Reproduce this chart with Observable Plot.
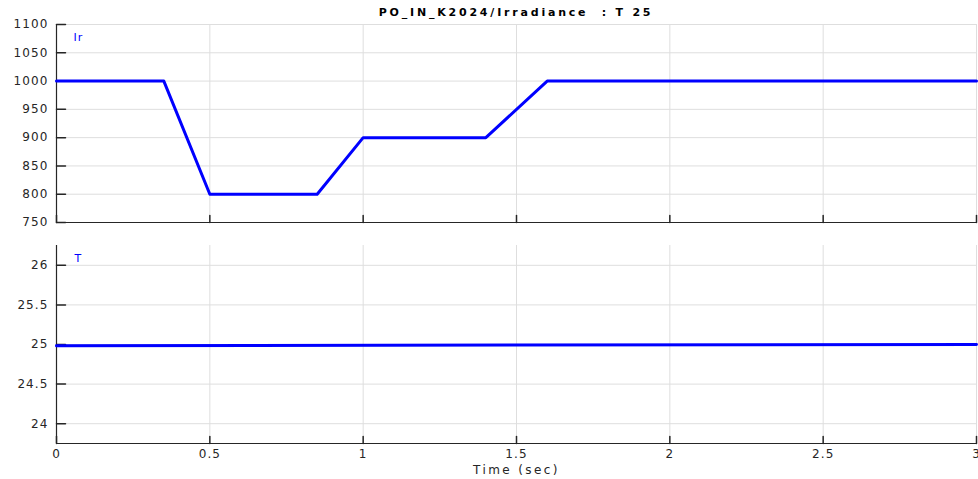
<!DOCTYPE html>
<html><head><meta charset="utf-8">
<script src="https://cdn.jsdelivr.net/npm/d3@7"></script>
<script src="https://cdn.jsdelivr.net/npm/@observablehq/plot@0.6"></script>
<style>
body{margin:0;background:#fff;}
#wrap{position:relative;width:978px;height:479px;font-family:"DejaVu Sans",sans-serif;overflow:hidden;}
#title{position:absolute;top:6px;left:56px;width:920px;text-align:center;font-weight:bold;font-size:11px;letter-spacing:2.8px;color:#000;line-height:14px;white-space:pre;}
#top{position:absolute;top:0;left:0;}
#bottom{position:absolute;top:230px;left:0;}
</style></head><body>
<div id="wrap"><div id="title"></div><div id="top"></div><div id="bottom"></div></div>
<script>
// Irradiance series (time in sec, W/m²)
const timeIr = [0, 0.35, 0.5, 0.85, 1.0, 1.4, 1.6, 3.0];
const irValues = [1000, 1000, 800, 800, 900, 900, 1000, 1000];
// Temperature series
const timeT = [0, 3.0];
const tValues = [24.985, 25.0];
// Ticks
const xTicks = [0, 0.5, 1, 1.5, 2, 2.5, 3];
const irTicks = [750, 800, 850, 900, 950, 1000, 1050, 1100];
const tTicks = [24, 24.5, 25, 25.5, 26];
const titleText = "PO_IN_K2024/Irradiance  : T 25";
const xLabel = "Time (sec)";

const irRows = timeIr.map((t, i) => ({t, v: irValues[i]}));
const tRows = timeT.map((t, i) => ({t, v: tValues[i]}));

const tickShape = {draw(ctx, l) { ctx.moveTo(0, 0); ctx.lineTo(0, -l); }};
const axisColor = "#262626";
const gridColor = "#dedede";
const style = {fontFamily: "'DejaVu Sans', sans-serif", fontSize: "12px", color: axisColor, letterSpacing: "1.1px", background: "transparent"};

function panel({rows, yDomain, yTicks, label, labelDx, showX, height, marginTop, marginBottom}) {
  const marks = [
    Plot.gridX(xTicks, {stroke: gridColor, strokeOpacity: 1}),
    Plot.gridY(yTicks, {stroke: gridColor, strokeOpacity: 1}),
    Plot.ruleX([0], {stroke: axisColor, strokeWidth: 1.2}),
    Plot.ruleY([yDomain[0]], {stroke: axisColor, strokeWidth: 1.2}),
    Plot.vector(yTicks, {x: 0, y: d => d, length: 9, rotate: 90, anchor: "start", shape: tickShape, stroke: axisColor}),
    Plot.vector(xTicks, {x: d => d, y: yDomain[0], length: 7, rotate: 0, anchor: "start", shape: tickShape, stroke: axisColor}),
    Plot.axisY(yTicks, {tickSize: 0, tickPadding: 8, label: null, tickFormat: d => String(d)}),
    Plot.line(rows, {x: "t", y: "v", stroke: "#0000ff", strokeWidth: 3}),
    Plot.text([label], {frameAnchor: "top-left", dx: labelDx, dy: 13, lineAnchor: "middle", fill: "#0000ff", text: d => d, fontSize: 11})
  ];
  if (showX) {
    marks.push(Plot.axisX(xTicks, {tickSize: 0, tickPadding: 6, label: null, tickFormat: d => String(d)}));
    marks.push(Plot.text([xLabel], {frameAnchor: "bottom", dy: 27, lineAnchor: "middle", text: d => d, fill: axisColor, fontSize: 12, style: "letter-spacing:2.4px"}));
  }
  return Plot.plot({
    width: 978, height, marginLeft: 56, marginRight: 2, marginTop, marginBottom,
    style,
    x: {domain: [0, 3], axis: null},
    y: {domain: yDomain, axis: null},
    marks
  });
}

document.getElementById("top").append(panel({rows: irRows, yDomain: [750, 1100], yTicks: irTicks, label: "Ir", labelDx: 17, showX: false, height: 230, marginTop: 24, marginBottom: 8}));
const bottom = panel({rows: tRows, yDomain: [23.75, 26.25], yTicks: tTicks, label: "T", labelDx: 18, showX: true, height: 249, marginTop: 15, marginBottom: 36});
// widen the x-axis label spacing like the reference
bottom.querySelectorAll("text").forEach(t => { if (t.textContent === xLabel) t.style.letterSpacing = "2.4px"; });
document.getElementById("bottom").append(bottom);
document.getElementById("title").textContent = titleText;
</script>
</body></html>
